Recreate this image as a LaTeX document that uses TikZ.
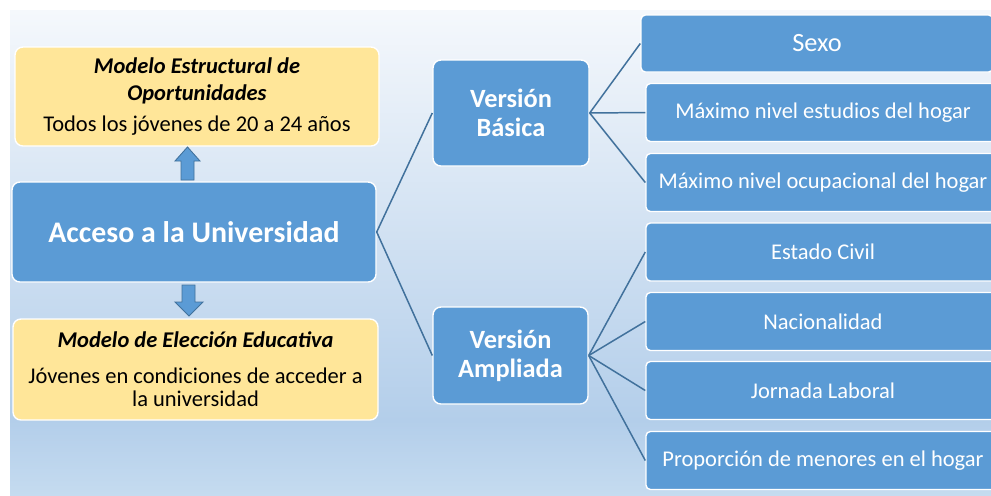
\documentclass[tikz,border=0pt]{standalone}
\usepackage{fontspec}
\setmainfont{Carlito}

\definecolor{boxblue}{HTML}{5B9BD5}
\definecolor{lineblue}{HTML}{41719C}
\definecolor{boxyellow}{HTML}{FFE699}
\definecolor{bgtop}{HTML}{F5F8FC}
\definecolor{bgmid}{HTML}{B3CEEA}
\definecolor{bgbot}{HTML}{C6DCF0}

\newcommand{\pxu}{0.02cm}
\newcommand{\modhead}[1]{\textbf{\textit{#1}}}

\tikzset{
  bluebox/.style={draw=white, line width=0.8pt, fill=boxblue, rounded corners=4.5pt,
    text=white, align=center, inner sep=0pt},
  itembox/.style={bluebox, rounded corners=2.5pt, minimum height=58*\pxu,
    font=\fontsize{12.8}{14}\selectfont},
  yellowbox/.style={draw=white, line width=0.8pt, fill=boxyellow, rounded corners=4.5pt,
    text=black, align=center, inner sep=0pt, font=\fontsize{12.8}{13.3}\selectfont},
  link/.style={draw=lineblue, line width=0.85pt},
  blockarrow/.style={fill=boxblue, draw=lineblue, line width=0.5pt}
}

\begin{document}
\begin{tikzpicture}[x=0.02cm, y=-0.02cm]
\useasboundingbox (0,0) rectangle (991,495);
\clip (0,0) rectangle (991,495);
\fill[white] (0,0) rectangle (991,495);
\shade[top color=bgtop, bottom color=bgmid] (10,10) rectangle (1000,421);
\shade[top color=bgmid, bottom color=bgbot] (10,420) rectangle (1000,500);

\node[yellowbox, minimum width=364*\pxu, minimum height=99*\pxu] (oportunidades) at (197,96.5)
  {\modhead{Modelo Estructural de}\\[2pt] \modhead{Oportunidades}\\[4.8pt] Todos los jóvenes de 20 a 24 años};
\node[bluebox, minimum width=364*\pxu, minimum height=100*\pxu,
  font=\fontsize{17}{18}\selectfont\bfseries] (acceso) at (194,232) {Acceso a la Universidad};
\node[yellowbox, minimum width=365*\pxu, minimum height=101*\pxu] (eleccion) at (195.5,369.5)
  {\modhead{Modelo de Elección Educativa}\\[7pt] Jóvenes en condiciones de acceder a\\ la universidad};

\filldraw[blockarrow] (187.5,147) -- (200,161) -- (194,161) -- (194,180) -- (181,180) -- (181,161) -- (175,161) -- cycle;
\filldraw[blockarrow] (182,285) -- (195,285) -- (195,302) -- (203,302) -- (189,316) -- (175,302) -- (182,302) -- cycle;

\node[bluebox, minimum width=156*\pxu, minimum height=106*\pxu,
  font=\fontsize{15}{16.5}\selectfont\bfseries] (basica) at (511,113) {Versión\\Básica};
\node[bluebox, minimum width=155*\pxu, minimum height=97*\pxu,
  font=\fontsize{15}{16.5}\selectfont\bfseries] (ampliada) at (510.5,355.5) {Versión\\Ampliada};

\node[itembox, minimum width=352*\pxu, minimum height=57*\pxu, font=\fontsize{15}{16}\selectfont] (sexo) at (817,43.5) {Sexo};
\node[itembox, minimum width=354*\pxu] (estudios) at (823,112.5) {Máximo nivel estudios del hogar};
\node[itembox, minimum width=354*\pxu] (ocupacion) at (823,182.5) {Máximo nivel ocupacional del hogar};
\node[itembox, minimum width=354*\pxu] (civil) at (823,252) {Estado Civil};
\node[itembox, minimum width=354*\pxu] (nacionalidad) at (823,321.5) {Nacionalidad};
\node[itembox, minimum width=354*\pxu] (jornada) at (823,390.5) {Jornada Laboral};
\node[itembox, minimum width=354*\pxu] (menores) at (823,460.5) {Proporción de menores en el hogar};

\draw[link] (acceso.east) -- (basica.west);
\draw[link] (acceso.east) -- (ampliada.west);
\draw[link] (basica.east) -- (sexo.west);
\draw[link] (basica.east) -- (estudios.west);
\draw[link] (basica.east) -- (ocupacion.west);
\draw[link] (ampliada.east) -- (civil.west);
\draw[link] (ampliada.east) -- (nacionalidad.west);
\draw[link] (ampliada.east) -- (jornada.west);
\draw[link] (ampliada.east) -- (menores.west);
\end{tikzpicture}
\end{document}
